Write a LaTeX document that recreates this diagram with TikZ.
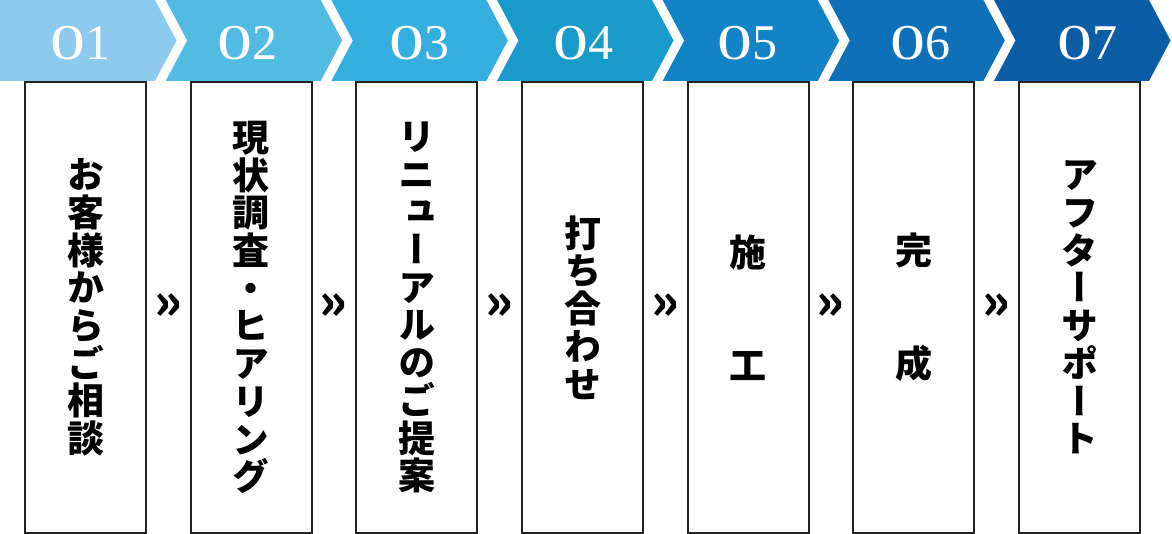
\documentclass[tikz,border=0pt]{standalone}
\usepackage{fontspec}
\usepackage{graphicx}
\newfontfamily\jpv{Noto Sans CJK JP}[RawFeature=+vert]
\newfontfamily\jpf{Noto Sans CJK JP}
\newfontfamily\numfont{Liberation Serif}
\definecolor{cA}{HTML}{8CCBEE}
\definecolor{cB}{HTML}{52BBE4}
\definecolor{cC}{HTML}{34AFDF}
\definecolor{cD}{HTML}{189BCB}
\definecolor{cE}{HTML}{1283C6}
\definecolor{cF}{HTML}{0E70B8}
\definecolor{cG}{HTML}{0B5EA5}
\definecolor{boxline}{HTML}{222222}
\newcommand\zro{\scalebox{1.4}[1]{0}}
\tikzset{
  stepbox/.style={draw=boxline, line width=2pt, fill=white, minimum width=121pt,
    minimum height=451pt, inner sep=0pt, align=center,
    font=\jpv\bfseries\fontsize{37}{37.7}\selectfont},
  sepmark/.style={inner sep=0pt, font=\jpf\bfseries\fontsize{50}{50}\selectfont},
  numlabel/.style={anchor=base, inner sep=0pt, text=white,
    font=\numfont\fontsize{50}{50}\selectfont}
}
\begin{document}
\begin{tikzpicture}[x=1pt,y=-1pt]
\useasboundingbox (0,0) rectangle (1172,534);
\def\P{165.67}
% boxes
\node[stepbox] (b1) at ({85.5+0*\P},307.5) {お\\客\\様\\か\\ら\\ご\\相\\談};
\node[stepbox] (b2) at ({85.5+1*\P},307.5) {現\\状\\調\\査\\・\\ヒ\\ア\\リ\\ン\\グ};
\node[stepbox] (b3) at ({85.5+2*\P},307.5) {リ\\ニ\\ュ\\ー\\ア\\ル\\の\\ご\\提\\案};
\node[stepbox] (b4) at ({85.5+3*\P},307.5) {打\\ち\\合\\わ\\せ};
\node[stepbox] (b5) at ({85.5+4*\P},307.5) {施\\\mbox{}\\\mbox{}\\工};
\node[stepbox] (b6) at ({85.5+5*\P},307.5) {完\\\mbox{}\\\mbox{}\\成};
\node[stepbox] (b7) at ({85.5+6*\P},307.5) {ア\\フ\\タ\\ー\\サ\\ポ\\ー\\ト};
% separators
\foreach \i in {1,...,6} {
  \node[sepmark] (s\i) at ({168+(\i-1)*\P},307) {»};
}
% chevrons
\fill[cA] (0,0) -- (155,0) -- (176.5,40.5) -- (155,81) -- (0,81) -- cycle;
\foreach \k/\c in {2/cB,3/cC,4/cD,5/cE,6/cF,7/cG} {
  \pgfmathsetmacro\L{(\k-1)*\P}
  \pgfmathsetmacro\R{155+(\k-1)*\P}
  \fill[\c] (\L,0) -- (\R,0) -- (\R+21.5,40.5) -- (\R,81) -- (\L,81) -- (\L+21.5,40.5) -- cycle;
}
% numbers
\node[numlabel] (n1) at (80,60) {\zro1};
\node[numlabel] (n2) at (247,60) {\zro2};
\node[numlabel] (n3) at (419,60) {\zro3};
\node[numlabel] (n4) at (583,60) {\zro4};
\node[numlabel] (n5) at (747.5,60) {\zro5};
\node[numlabel] (n6) at (920,60) {\zro6};
\node[numlabel] (n7) at (1087.5,60) {\zro7};
\end{tikzpicture}
\end{document}
